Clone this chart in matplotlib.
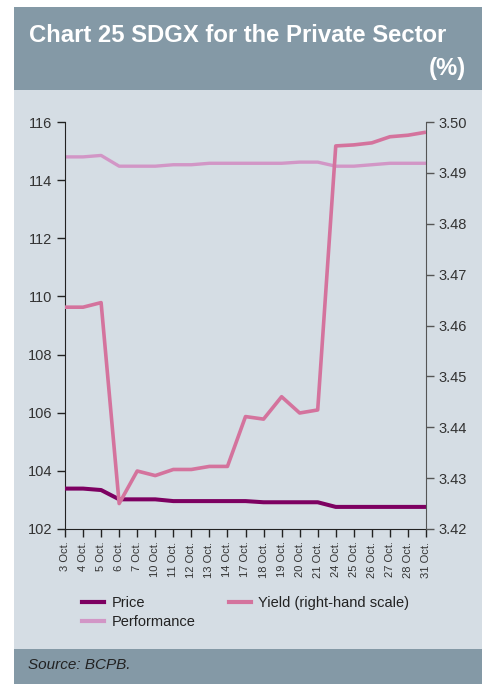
import matplotlib
matplotlib.use("Agg")
import matplotlib.pyplot as plt
from matplotlib.patches import Rectangle
from matplotlib.lines import Line2D

plt.rcParams['font.family'] = ['Liberation Sans', 'DejaVu Sans']

dates = ["3 Oct.", "4 Oct.", "5 Oct.", "6 Oct.", "7 Oct.", "10 Oct.", "11 Oct.",
         "12 Oct.", "13 Oct.", "14 Oct.", "17 Oct.", "18 Oct.", "19 Oct.",
         "20 Oct.", "21 Oct.", "24 Oct.", "25 Oct.", "26 Oct.", "27 Oct.",
         "28 Oct.", "31 Oct."]

price = [103.39, 103.39, 103.34, 103.02, 103.02, 103.02, 102.96, 102.96,
         102.96, 102.96, 102.96, 102.92, 102.92, 102.92, 102.92, 102.76,
         102.76, 102.76, 102.76, 102.76, 102.76]

performance = [114.80, 114.80, 114.85, 114.48, 114.48, 114.48, 114.53, 114.53,
               114.58, 114.58, 114.58, 114.58, 114.58, 114.62, 114.62, 114.48,
               114.48, 114.53, 114.58, 114.58, 114.58]

yield_pct = [3.4636, 3.4636, 3.4645, 3.4250, 3.4314, 3.4305, 3.4317, 3.4317,
             3.4323, 3.4323, 3.4421, 3.4416, 3.4460, 3.4428, 3.4434, 3.4953,
             3.4955, 3.4959, 3.4971, 3.4974, 3.4980]

left_ticks = [102, 104, 106, 108, 110, 112, 114, 116]
right_ticks = [3.42, 3.43, 3.44, 3.45, 3.46, 3.47, 3.48, 3.49, 3.50]

header_col = "#8499a6"
panel_col = "#d5dde4"
c_price = "#7d0061"
c_yield = "#d4739d"
c_perf = "#d296c6"
text_col = "#333333"

W, H = 482, 684
fig = plt.figure(figsize=(W / 100, H / 100), dpi=100)
fig.patch.set_facecolor("white")

def box(x0, y0, x1, y1, color):
    fig.patches.append(Rectangle((x0 / W, 1 - y1 / H), (x1 - x0) / W, (y1 - y0) / H,
                                 transform=fig.transFigure, facecolor=color,
                                 edgecolor="none", zorder=-10))

box(14, 7, 482, 90, header_col)
box(14, 90, 482, 649, panel_col)
box(14, 649, 482, 684, header_col)

fig.text(29 / W, 1 - 35 / H, "Chart 25 SDGX for the Private Sector", color="white",
         fontsize=17.2, fontweight="bold", va="center", ha="left")
fig.text(466 / W, 1 - 69 / H, "(%)", color="white", fontsize=17.2,
         fontweight="bold", va="center", ha="right")
fig.text(28 / W, 1 - 665 / H, "Source: BCPB.", color="#222222", fontsize=11,
         style="italic", va="center", ha="left")

ax = fig.add_axes([65 / W, 1 - 529 / H, (426 - 65) / W, (529 - 122) / H])
ax.set_facecolor("none")
x = list(range(len(dates)))

ax.plot(x, price, color=c_price, lw=2.9, solid_capstyle="butt", zorder=3)
ax.plot(x, performance, color=c_perf, lw=2.4, solid_capstyle="butt", zorder=2)
ax.set_xlim(0, len(dates) - 1)
ax.set_ylim(102, 116)
ax.set_yticks(left_ticks)
ax.set_yticklabels([str(t) for t in left_ticks])
ax.set_xticks(x)
ax.set_xticklabels(dates, rotation=90, fontsize=8, color=text_col)
ax.tick_params(axis="y", direction="out", length=6, width=1, labelsize=10.5,
               colors="#222222", labelcolor=text_col, pad=3)
ax.tick_params(axis="x", direction="out", length=6, width=1, colors="#222222",
               labelcolor=text_col, pad=3)
for s in ("top", "right"):
    ax.spines[s].set_visible(False)
ax.spines["left"].set_color("#222222")
ax.spines["bottom"].set_color("#222222")

ax2 = ax.twinx()
ax2.plot(x, yield_pct, color=c_yield, lw=2.6, solid_capstyle="butt", zorder=4)
ax2.set_ylim(3.42, 3.50)
ax2.set_yticks(right_ticks)
ax2.set_yticklabels([f"{t:.2f}" for t in right_ticks])
ax2.tick_params(axis="y", direction="out", length=6, width=1, labelsize=10.5,
                colors="#555555", labelcolor=text_col, pad=3)
for s in ("top", "left", "bottom"):
    ax2.spines[s].set_visible(False)
ax2.spines["right"].set_color("#555555")

handles = [Line2D([], [], color=c_price, lw=3),
           Line2D([], [], color=c_perf, lw=3),
           Line2D([], [], color=c_yield, lw=3)]
labels = ["Price", "Performance", "Yield (right-hand scale)"]
fig.legend(handles, labels, ncol=2, loc="upper left",
           bbox_to_anchor=(69 / W, 1 - 583 / H), frameon=False, fontsize=10.5,
           handlelength=1.5, handletextpad=0.5, columnspacing=2.3,
           labelspacing=0.35, labelcolor="#222222")

fig.savefig("out.png", dpi=100, facecolor=fig.get_facecolor())
